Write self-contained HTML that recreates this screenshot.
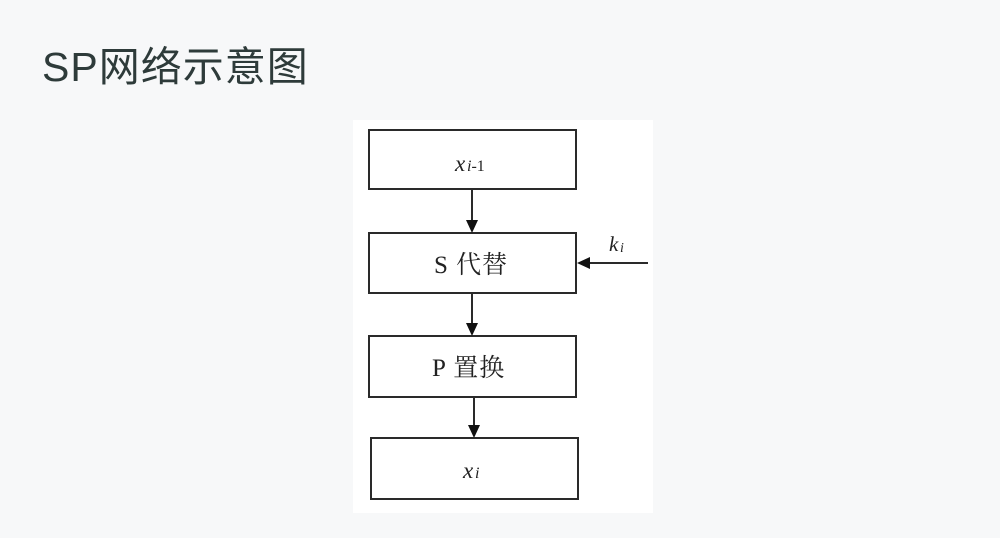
<!DOCTYPE html>
<html><head><meta charset="utf-8"><style>
html,body{margin:0;padding:0;background:#f7f8f9;width:1000px;height:538px;overflow:hidden}
.t{position:absolute;left:42px;top:33px;font-family:"Liberation Sans","Noto Sans CJK SC",sans-serif;font-size:41px;color:#2e3b3a;letter-spacing:1px}
svg{position:absolute;left:0;top:0}
</style></head><body>
<div class="t">SP网络示意图</div>
<svg width="1000" height="538" xmlns="http://www.w3.org/2000/svg" font-family="'Liberation Serif','Noto Serif CJK SC',serif">
<rect x="353" y="120" width="300" height="393" fill="#fff"/>
<g fill="none" stroke="#2a2a2a" stroke-width="2">
<rect x="369" y="130" width="207" height="59"/>
<rect x="369" y="233" width="207" height="60"/>
<rect x="369" y="336" width="207" height="61"/>
<rect x="371" y="438" width="207" height="61"/>
<line x1="472" y1="189" x2="472" y2="222"/>
<line x1="472" y1="293" x2="472" y2="325"/>
<line x1="474" y1="397" x2="474" y2="427"/>
<line x1="648" y1="263" x2="588" y2="263"/>
</g>
<g fill="#111">
<polygon points="466,220 478,220 472,233"/>
<polygon points="466,323 478,323 472,336"/>
<polygon points="468,425 480,425 474,438"/>
<polygon points="577,263 590,257 590,269"/>
</g>
<g fill="#222">
<text x="455" y="171" font-size="23" font-style="italic">x</text><text x="467" y="171" font-size="16"><tspan font-style="italic">i</tspan>-1</text>
<text x="434" y="273" font-size="25" letter-spacing="1">S 代替</text>
<text x="432" y="376" font-size="25" letter-spacing="1">P 置换</text>
<text x="463" y="478" font-size="23" font-style="italic">x</text><text x="475" y="478" font-size="16" font-style="italic">i</text>
<text x="609" y="251" font-size="21" font-style="italic">k</text><text x="620" y="252" font-size="14" font-style="italic">i</text>
</g>
</svg>
</body></html>
